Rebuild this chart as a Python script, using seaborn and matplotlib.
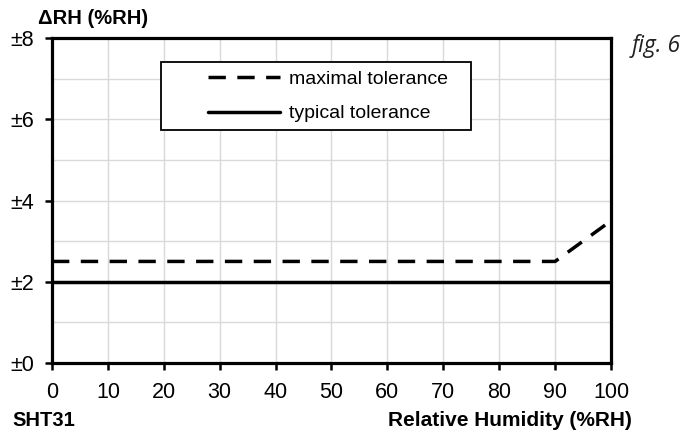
import matplotlib
matplotlib.use("Agg")
import matplotlib.pyplot as plt
from matplotlib.patches import Rectangle
from matplotlib.ticker import MultipleLocator
import seaborn as sns
import pandas as pd

# humidity axis and tolerance curves
rh = [0, 90, 100]
max_tol = [2.5, 2.5, 3.5]
typ_rh = [0, 100]
typ_tol = [2.0, 2.0]
y_ticks = [0, 2, 4, 6, 8]
y_labels = ["±0", "±2", "±4", "±6", "±8"]
x_ticks = list(range(0, 101, 10))

sns.set_style("white")
plt.rcParams["font.family"] = ["Liberation Sans", "DejaVu Sans"]
plt.rcParams["text.color"] = "black"

fig = plt.figure(figsize=(6.83, 4.33), dpi=100)
ax = fig.add_axes([0.0761, 0.1617, 0.8185, 0.7505])

df_max = pd.DataFrame({"rh": rh, "tol": max_tol})
df_typ = pd.DataFrame({"rh": typ_rh, "tol": typ_tol})

sns.lineplot(data=df_max, x="rh", y="tol", ax=ax, color="black", lw=2.5,
             linestyle=(0, (5.0, 3.3)), dash_capstyle="butt",
             label="maximal tolerance", zorder=3)
sns.lineplot(data=df_typ, x="rh", y="tol", ax=ax, color="black", lw=2.5,
             label="typical tolerance", zorder=3)

ax.set_xlim(0, 100)
ax.set_ylim(0, 8)
ax.set_xticks(x_ticks)
ax.set_yticks(y_ticks)
ax.set_yticklabels(y_labels)
ax.yaxis.set_minor_locator(MultipleLocator(1))
ax.grid(True, which="both", color="#d9d9d9", lw=1.0, zorder=0)
ax.set_axisbelow(True)
ax.set_xlabel("")
ax.set_ylabel("")

for s in ax.spines.values():
    s.set_color("black")
    s.set_linewidth(2.3)
ax.tick_params(axis="both", which="major", direction="out", length=5, width=1.8,
               colors="black", labelsize=15.5)
ax.tick_params(axis="x", pad=9)
ax.tick_params(axis="y", pad=8)
ax.tick_params(axis="y", which="minor", length=0)
ax.tick_params(axis="both", bottom=True, left=True)

# legend box is wider than its entries, so draw frame separately
ax.add_patch(Rectangle((0.195, 0.717), 0.555, 0.209, transform=ax.transAxes,
                       facecolor="white", edgecolor="black", lw=1.3, zorder=4))
leg = ax.legend(loc="center left", bbox_to_anchor=(0.279, 0.82), fontsize=14,
                handlelength=3.7, handletextpad=0.45, borderpad=0,
                labelspacing=0.85, frameon=False, borderaxespad=0,
                labelcolor="black")
leg.set_zorder(5)

fig.text(0.056, 0.958, "ΔRH (%RH)", fontsize=14.5, fontweight="bold",
         ha="left", va="center", color="black")
fig.text(0.018, 0.030, "SHT31", fontsize=14.5, fontweight="bold",
         ha="left", va="center", color="black")
fig.text(0.925, 0.030, "Relative Humidity (%RH)", fontsize=15,
         fontweight="bold", ha="right", va="center", color="black")
fig.text(0.925, 0.893, "fig. 6", fontsize=16.5, style="italic",
         family=["Open Sans", "DejaVu Sans"], ha="left", va="center",
         color="#222222")

fig.savefig("out.png", dpi=100)
